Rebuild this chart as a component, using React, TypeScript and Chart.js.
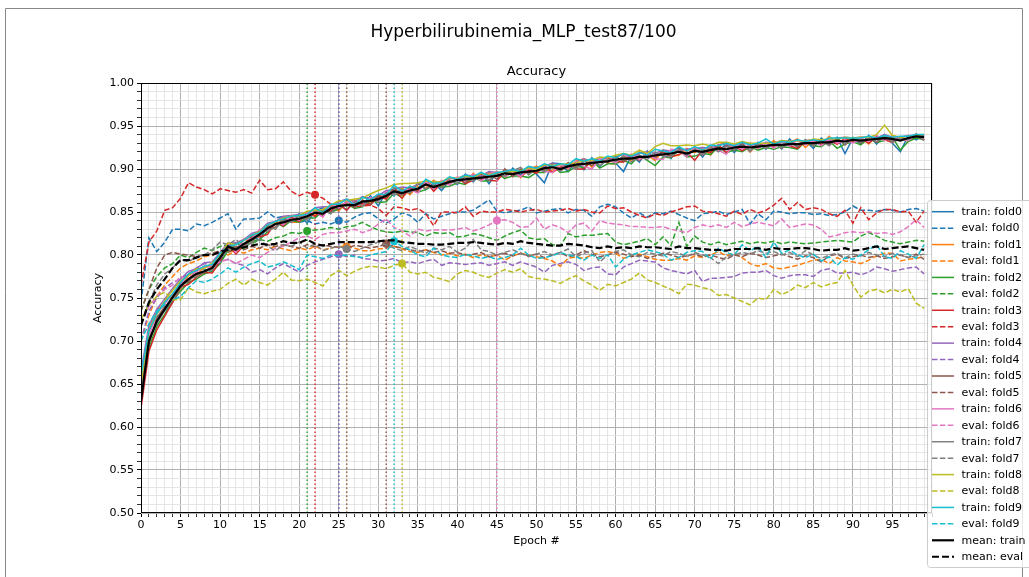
import { useEffect, useRef } from 'react';
import { Chart, registerables } from 'chart.js';

Chart.register(...registerables);

const epochs: number[] = Array.from({ length: 100 }, (_, i) => i);
const foldNames = ['fold0', 'fold1', 'fold2', 'fold3', 'fold4', 'fold5', 'fold6', 'fold7', 'fold8', 'fold9'];
const foldColors = ['#1f77b4', '#ff7f0e', '#2ca02c', '#d62728', '#9467bd', '#8c564b', '#e377c2', '#7f7f7f', '#bcbd22', '#17becf'];
const bestEpochs = [25, 26, 21, 22, 25, 31, 45, 26, 33, 32];
const xTickLabels = ['0', '5', '10', '15', '20', '25', '30', '35', '40', '45', '50', '55', '60', '65', '70', '75', '80', '85', '90', '95'];
const yTickLabels = ['0.50', '0.55', '0.60', '0.65', '0.70', '0.75', '0.80', '0.85', '0.90', '0.95', '1.00'];

const trainFold0 = [0.640,0.712,0.728,0.735,0.745,0.768,0.769,0.784,0.783,0.781,
0.791,0.812,0.814,0.809,0.823,0.817,0.834,0.830,0.842,0.839,
0.848,0.837,0.851,0.855,0.849,0.860,0.852,0.863,0.858,0.869,
0.857,0.873,0.869,0.878,0.871,0.884,0.876,0.884,0.875,0.887,
0.882,0.894,0.885,0.895,0.883,0.896,0.889,0.901,0.893,0.902,
0.894,0.884,0.907,0.906,0.897,0.909,0.899,0.913,0.903,0.912,
0.907,0.897,0.916,0.908,0.921,0.911,0.921,0.912,0.925,0.915,
0.925,0.914,0.927,0.921,0.929,0.919,0.930,0.920,0.931,0.923,
0.932,0.923,0.935,0.925,0.933,0.924,0.936,0.928,0.937,0.918,
0.936,0.929,0.939,0.929,0.940,0.930,0.920,0.939,0.934,0.940];
const trainFold1 = [0.655,0.715,0.735,0.745,0.753,0.760,0.777,0.776,0.787,0.786,
0.801,0.804,0.804,0.819,0.814,0.828,0.833,0.831,0.844,0.838,
0.838,0.850,0.846,0.852,0.856,0.851,0.862,0.864,0.858,0.861,
0.870,0.866,0.878,0.878,0.870,0.880,0.878,0.887,0.880,0.889,
0.889,0.884,0.895,0.887,0.896,0.894,0.890,0.898,0.890,0.900,
0.903,0.899,0.898,0.906,0.900,0.909,0.912,0.902,0.911,0.907,
0.906,0.916,0.909,0.920,0.916,0.910,0.922,0.915,0.916,0.924,
0.919,0.925,0.916,0.928,0.931,0.922,0.930,0.920,0.929,0.925,
0.933,0.924,0.931,0.935,0.925,0.933,0.928,0.938,0.929,0.936,
0.931,0.937,0.929,0.938,0.934,0.939,0.936,0.932,0.940,0.936];
const trainFold2 = [0.645,0.692,0.717,0.731,0.747,0.758,0.768,0.772,0.778,0.781,
0.790,0.805,0.809,0.807,0.816,0.818,0.827,0.838,0.833,0.840,
0.838,0.843,0.843,0.851,0.849,0.854,0.860,0.854,0.856,0.864,
0.861,0.862,0.872,0.867,0.878,0.873,0.876,0.881,0.879,0.880,
0.884,0.882,0.891,0.886,0.886,0.895,0.889,0.892,0.892,0.890,
0.896,0.896,0.905,0.896,0.897,0.903,0.902,0.910,0.901,0.906,
0.906,0.910,0.906,0.916,0.910,0.904,0.914,0.913,0.922,0.914,
0.915,0.918,0.917,0.926,0.919,0.922,0.920,0.926,0.922,0.925,
0.923,0.926,0.925,0.923,0.932,0.927,0.926,0.933,0.924,0.929,
0.932,0.928,0.936,0.931,0.933,0.937,0.922,0.932,0.936,0.934];
const trainFold3 = [0.622,0.688,0.713,0.729,0.745,0.762,0.766,0.774,0.780,0.779,
0.793,0.813,0.801,0.811,0.822,0.821,0.824,0.838,0.834,0.844,
0.839,0.849,0.845,0.853,0.851,0.859,0.852,0.862,0.860,0.858,
0.868,0.865,0.876,0.866,0.878,0.875,0.886,0.874,0.884,0.882,
0.890,0.883,0.887,0.894,0.887,0.886,0.897,0.897,0.891,0.899,
0.895,0.904,0.896,0.902,0.907,0.900,0.900,0.910,0.910,0.913,
0.909,0.908,0.917,0.911,0.916,0.914,0.920,0.914,0.917,0.920,
0.910,0.922,0.919,0.928,0.919,0.927,0.921,0.928,0.924,0.931,
0.925,0.932,0.927,0.924,0.933,0.934,0.928,0.933,0.929,0.935,
0.931,0.935,0.930,0.938,0.934,0.931,0.936,0.934,0.939,0.934];
const trainFold4 = [0.665,0.718,0.737,0.749,0.761,0.772,0.781,0.784,0.791,0.792,
0.803,0.814,0.814,0.818,0.825,0.828,0.837,0.839,0.845,0.846,
0.847,0.848,0.855,0.856,0.856,0.862,0.865,0.862,0.868,0.866,
0.869,0.875,0.876,0.879,0.878,0.882,0.884,0.885,0.885,0.889,
0.889,0.893,0.892,0.892,0.897,0.896,0.896,0.899,0.898,0.901,
0.901,0.903,0.907,0.904,0.905,0.908,0.912,0.909,0.912,0.910,
0.914,0.917,0.913,0.918,0.920,0.918,0.922,0.921,0.922,0.923,
0.924,0.925,0.924,0.928,0.929,0.926,0.929,0.930,0.928,0.931,
0.930,0.933,0.932,0.933,0.931,0.934,0.934,0.933,0.936,0.937,
0.936,0.937,0.937,0.936,0.940,0.937,0.937,0.939,0.939,0.939];
const trainFold5 = [0.635,0.696,0.727,0.740,0.748,0.765,0.769,0.779,0.779,0.786,
0.799,0.807,0.810,0.809,0.821,0.822,0.834,0.832,0.843,0.838,
0.846,0.842,0.852,0.846,0.858,0.853,0.863,0.855,0.864,0.859,
0.869,0.867,0.878,0.869,0.880,0.873,0.885,0.877,0.886,0.882,
0.890,0.884,0.893,0.888,0.894,0.888,0.900,0.891,0.900,0.895,
0.902,0.898,0.905,0.898,0.907,0.901,0.910,0.904,0.911,0.907,
0.915,0.909,0.914,0.910,0.917,0.914,0.921,0.915,0.924,0.915,
0.924,0.916,0.925,0.922,0.927,0.922,0.929,0.921,0.930,0.925,
0.931,0.924,0.931,0.926,0.934,0.927,0.934,0.929,0.936,0.928,
0.936,0.930,0.937,0.931,0.938,0.932,0.937,0.934,0.940,0.934];
const trainFold6 = [0.642,0.705,0.732,0.743,0.755,0.765,0.777,0.780,0.787,0.783,
0.798,0.814,0.803,0.818,0.819,0.830,0.829,0.840,0.835,0.846,
0.840,0.849,0.850,0.844,0.859,0.855,0.862,0.860,0.857,0.867,
0.862,0.874,0.870,0.876,0.876,0.872,0.885,0.877,0.887,0.881,
0.891,0.886,0.894,0.886,0.894,0.897,0.891,0.896,0.891,0.901,
0.900,0.897,0.896,0.905,0.901,0.909,0.903,0.900,0.912,0.911,
0.907,0.915,0.917,0.911,0.918,0.912,0.911,0.923,0.922,0.914,
0.926,0.917,0.926,0.922,0.917,0.929,0.923,0.929,0.924,0.930,
0.924,0.932,0.926,0.934,0.928,0.933,0.927,0.935,0.930,0.934,
0.930,0.936,0.932,0.939,0.933,0.938,0.935,0.933,0.940,0.935];
const trainFold7 = [0.638,0.703,0.720,0.736,0.748,0.762,0.772,0.775,0.781,0.783,
0.796,0.806,0.808,0.810,0.814,0.826,0.828,0.832,0.840,0.838,
0.845,0.841,0.851,0.852,0.848,0.859,0.857,0.861,0.857,0.865,
0.863,0.872,0.870,0.876,0.872,0.883,0.877,0.882,0.878,0.887,
0.883,0.891,0.886,0.896,0.887,0.894,0.892,0.898,0.902,0.893,
0.901,0.897,0.906,0.897,0.905,0.900,0.909,0.911,0.904,0.911,
0.909,0.915,0.908,0.916,0.911,0.920,0.915,0.914,0.923,0.916,
0.923,0.917,0.926,0.920,0.926,0.923,0.928,0.921,0.929,0.924,
0.930,0.924,0.932,0.927,0.934,0.927,0.933,0.927,0.935,0.929,
0.937,0.931,0.936,0.932,0.939,0.931,0.936,0.934,0.941,0.933];
const trainFold8 = [0.650,0.712,0.731,0.747,0.759,0.770,0.776,0.784,0.784,0.791,
0.799,0.814,0.812,0.817,0.823,0.827,0.835,0.838,0.843,0.845,
0.846,0.851,0.852,0.853,0.858,0.863,0.863,0.865,0.866,0.871,
0.875,0.878,0.882,0.883,0.883,0.884,0.886,0.885,0.885,0.890,
0.889,0.892,0.890,0.895,0.893,0.896,0.896,0.897,0.898,0.901,
0.899,0.905,0.904,0.905,0.906,0.907,0.910,0.910,0.914,0.913,
0.916,0.918,0.916,0.922,0.918,0.926,0.930,0.927,0.927,0.928,
0.927,0.929,0.927,0.931,0.931,0.929,0.932,0.930,0.930,0.930,
0.930,0.933,0.932,0.933,0.932,0.935,0.934,0.935,0.935,0.937,
0.936,0.937,0.937,0.940,0.951,0.939,0.937,0.938,0.939,0.940];
const trainFold9 = [0.660,0.712,0.732,0.745,0.755,0.768,0.778,0.782,0.787,0.789,
0.802,0.810,0.812,0.817,0.823,0.826,0.835,0.839,0.842,0.845,
0.846,0.847,0.855,0.849,0.859,0.859,0.865,0.858,0.867,0.864,
0.871,0.870,0.881,0.874,0.880,0.877,0.888,0.883,0.884,0.891,
0.888,0.893,0.891,0.896,0.892,0.896,0.897,0.899,0.897,0.903,
0.901,0.906,0.903,0.906,0.905,0.912,0.909,0.912,0.909,0.915,
0.913,0.918,0.915,0.919,0.916,0.923,0.921,0.919,0.926,0.921,
0.926,0.922,0.928,0.927,0.930,0.927,0.931,0.928,0.930,0.935,
0.929,0.932,0.931,0.934,0.932,0.934,0.932,0.936,0.936,0.936,
0.936,0.936,0.938,0.936,0.939,0.937,0.938,0.938,0.940,0.940];

const evalFold0 = [0.745,0.820,0.804,0.815,0.830,0.830,0.828,0.836,0.834,0.838,
0.843,0.848,0.830,0.842,0.842,0.843,0.850,0.843,0.845,0.842,
0.838,0.840,0.836,0.838,0.836,0.840,0.838,0.844,0.848,0.849,
0.842,0.837,0.842,0.849,0.846,0.838,0.848,0.842,0.845,0.848,
0.850,0.850,0.852,0.858,0.864,0.851,0.849,0.851,0.852,0.856,
0.849,0.851,0.853,0.854,0.849,0.853,0.852,0.845,0.856,0.859,
0.856,0.849,0.843,0.849,0.844,0.849,0.848,0.851,0.847,0.843,
0.840,0.848,0.849,0.851,0.847,0.850,0.853,0.836,0.848,0.841,
0.851,0.850,0.848,0.849,0.849,0.847,0.848,0.846,0.847,0.850,
0.857,0.852,0.852,0.851,0.853,0.852,0.850,0.853,0.854,0.851];
const evalFold1 = [0.700,0.730,0.752,0.765,0.775,0.785,0.790,0.793,0.798,0.800,
0.803,0.800,0.805,0.802,0.806,0.808,0.806,0.810,0.807,0.805,
0.808,0.806,0.810,0.806,0.808,0.810,0.810,0.808,0.805,0.805,
0.807,0.808,0.810,0.807,0.804,0.803,0.806,0.803,0.800,0.802,
0.799,0.801,0.797,0.800,0.798,0.800,0.794,0.799,0.802,0.800,
0.798,0.796,0.793,0.787,0.796,0.798,0.796,0.800,0.803,0.804,
0.802,0.796,0.800,0.801,0.798,0.795,0.794,0.794,0.796,0.794,
0.799,0.797,0.800,0.804,0.799,0.802,0.797,0.790,0.787,0.790,
0.785,0.784,0.786,0.788,0.791,0.794,0.795,0.790,0.797,0.793,
0.792,0.790,0.794,0.799,0.802,0.802,0.793,0.795,0.796,0.798];
const evalFold2 = [0.735,0.760,0.775,0.785,0.790,0.800,0.797,0.803,0.808,0.805,
0.810,0.812,0.808,0.815,0.813,0.818,0.816,0.820,0.822,0.826,
0.825,0.828,0.829,0.830,0.832,0.830,0.833,0.834,0.838,0.833,
0.829,0.827,0.826,0.828,0.827,0.826,0.822,0.826,0.825,0.826,
0.821,0.822,0.825,0.823,0.820,0.817,0.822,0.826,0.829,0.820,
0.818,0.819,0.812,0.811,0.825,0.821,0.823,0.823,0.824,0.825,
0.815,0.812,0.814,0.816,0.819,0.812,0.821,0.811,0.838,0.810,
0.822,0.815,0.812,0.815,0.812,0.814,0.816,0.813,0.815,0.814,
0.816,0.813,0.815,0.814,0.813,0.814,0.815,0.816,0.817,0.816,
0.815,0.822,0.826,0.822,0.817,0.815,0.813,0.815,0.817,0.816];
const evalFold3 = [0.765,0.815,0.828,0.852,0.855,0.866,0.884,0.879,0.876,0.871,
0.877,0.875,0.873,0.876,0.872,0.887,0.876,0.877,0.885,0.874,
0.869,0.873,0.870,0.866,0.859,0.858,0.860,0.856,0.857,0.858,
0.854,0.846,0.856,0.855,0.852,0.854,0.848,0.834,0.850,0.850,
0.849,0.856,0.845,0.851,0.850,0.850,0.853,0.852,0.850,0.852,
0.853,0.850,0.851,0.852,0.854,0.851,0.853,0.850,0.849,0.857,
0.854,0.855,0.850,0.846,0.843,0.848,0.846,0.850,0.853,0.856,
0.857,0.851,0.850,0.848,0.845,0.851,0.847,0.853,0.849,0.852,
0.858,0.866,0.853,0.861,0.853,0.855,0.853,0.848,0.845,0.852,
0.837,0.855,0.841,0.849,0.853,0.853,0.850,0.851,0.838,0.851];
const evalFold4 = [0.700,0.735,0.750,0.762,0.768,0.772,0.778,0.785,0.790,0.788,
0.792,0.795,0.790,0.788,0.780,0.783,0.778,0.785,0.790,0.785,
0.780,0.788,0.792,0.795,0.798,0.801,0.798,0.800,0.796,0.795,
0.793,0.794,0.796,0.791,0.792,0.790,0.793,0.795,0.788,0.791,
0.790,0.789,0.790,0.791,0.788,0.790,0.792,0.788,0.792,0.789,
0.786,0.780,0.788,0.790,0.792,0.789,0.782,0.785,0.786,0.778,
0.777,0.786,0.790,0.794,0.793,0.792,0.785,0.782,0.780,0.778,
0.782,0.769,0.773,0.773,0.774,0.775,0.779,0.780,0.780,0.782,
0.776,0.773,0.776,0.777,0.777,0.775,0.782,0.784,0.779,0.779,
0.780,0.777,0.780,0.786,0.784,0.781,0.783,0.785,0.786,0.778];
const evalFold5 = [0.735,0.760,0.785,0.800,0.803,0.801,0.800,0.798,0.800,0.802,
0.805,0.803,0.808,0.806,0.810,0.808,0.812,0.810,0.812,0.810,
0.808,0.812,0.810,0.812,0.810,0.809,0.808,0.811,0.810,0.808,
0.810,0.813,0.810,0.808,0.806,0.804,0.806,0.803,0.805,0.802,
0.803,0.800,0.801,0.803,0.798,0.800,0.802,0.799,0.802,0.799,
0.801,0.797,0.800,0.803,0.798,0.800,0.805,0.801,0.798,0.800,
0.803,0.801,0.798,0.800,0.796,0.799,0.802,0.800,0.797,0.799,
0.801,0.798,0.800,0.797,0.795,0.800,0.798,0.802,0.800,0.797,
0.799,0.801,0.798,0.795,0.799,0.797,0.792,0.799,0.801,0.796,
0.798,0.800,0.797,0.799,0.796,0.798,0.800,0.797,0.801,0.795];
const evalFold6 = [0.720,0.740,0.752,0.760,0.765,0.775,0.772,0.782,0.785,0.788,
0.792,0.795,0.790,0.795,0.800,0.797,0.803,0.808,0.810,0.815,
0.820,0.822,0.818,0.824,0.826,0.826,0.828,0.830,0.826,0.829,
0.836,0.842,0.832,0.828,0.822,0.830,0.828,0.829,0.829,0.829,
0.830,0.832,0.828,0.831,0.835,0.840,0.841,0.838,0.832,0.833,
0.843,0.830,0.835,0.832,0.826,0.835,0.837,0.828,0.840,0.837,
0.836,0.835,0.833,0.833,0.832,0.832,0.833,0.830,0.828,0.826,
0.832,0.835,0.833,0.835,0.832,0.838,0.833,0.836,0.838,0.836,
0.834,0.842,0.832,0.834,0.836,0.835,0.830,0.821,0.823,0.826,
0.827,0.826,0.827,0.825,0.826,0.824,0.827,0.833,0.841,0.832];
const evalFold7 = [0.720,0.745,0.765,0.778,0.785,0.795,0.792,0.798,0.800,0.806,
0.815,0.812,0.818,0.810,0.815,0.818,0.810,0.805,0.812,0.810,
0.815,0.808,0.813,0.805,0.808,0.810,0.807,0.804,0.808,0.812,
0.815,0.812,0.808,0.805,0.810,0.806,0.802,0.808,0.806,0.810,
0.803,0.808,0.818,0.806,0.804,0.800,0.803,0.806,0.802,0.798,
0.801,0.804,0.800,0.803,0.807,0.798,0.802,0.805,0.792,0.800,
0.804,0.806,0.800,0.798,0.803,0.801,0.799,0.804,0.802,0.798,
0.803,0.800,0.797,0.790,0.798,0.800,0.803,0.801,0.805,0.802,
0.804,0.800,0.803,0.798,0.805,0.800,0.796,0.800,0.802,0.797,
0.801,0.799,0.803,0.800,0.798,0.802,0.800,0.797,0.799,0.801];
const evalFold8 = [0.725,0.742,0.752,0.757,0.748,0.748,0.762,0.757,0.755,0.758,
0.760,0.767,0.772,0.765,0.772,0.768,0.765,0.772,0.780,0.771,
0.770,0.772,0.768,0.764,0.776,0.782,0.776,0.781,0.785,0.787,
0.786,0.784,0.788,0.790,0.780,0.778,0.780,0.774,0.772,0.769,
0.778,0.782,0.780,0.776,0.774,0.779,0.783,0.780,0.784,0.775,
0.773,0.772,0.770,0.767,0.772,0.776,0.770,0.765,0.759,0.766,
0.764,0.768,0.772,0.779,0.771,0.768,0.764,0.760,0.755,0.766,
0.765,0.762,0.760,0.753,0.754,0.750,0.746,0.742,0.750,0.748,
0.760,0.754,0.758,0.765,0.762,0.768,0.763,0.766,0.768,0.782,
0.765,0.751,0.758,0.760,0.756,0.760,0.757,0.761,0.744,0.738];
const evalFold9 = [0.700,0.720,0.735,0.742,0.748,0.752,0.762,0.770,0.768,0.772,
0.778,0.785,0.780,0.786,0.790,0.793,0.786,0.788,0.792,0.788,
0.783,0.800,0.798,0.796,0.800,0.799,0.800,0.798,0.797,0.800,
0.802,0.804,0.816,0.810,0.806,0.800,0.798,0.808,0.800,0.798,
0.797,0.801,0.799,0.796,0.798,0.795,0.797,0.800,0.808,0.800,
0.796,0.797,0.799,0.803,0.800,0.798,0.794,0.800,0.796,0.800,
0.786,0.795,0.800,0.803,0.806,0.804,0.801,0.794,0.797,0.803,
0.805,0.804,0.795,0.808,0.803,0.800,0.812,0.805,0.810,0.797,
0.815,0.802,0.806,0.800,0.797,0.801,0.793,0.798,0.788,0.797,
0.795,0.800,0.806,0.812,0.798,0.796,0.805,0.801,0.796,0.812];

const meanTrain = [0.630,0.700,0.723,0.737,0.751,0.764,0.772,0.778,0.781,0.785,
0.797,0.810,0.806,0.813,0.818,0.824,0.831,0.836,0.838,0.841,
0.842,0.845,0.849,0.848,0.854,0.857,0.858,0.858,0.862,0.863,
0.865,0.869,0.874,0.872,0.875,0.877,0.882,0.879,0.882,0.885,
0.887,0.888,0.889,0.890,0.891,0.892,0.895,0.894,0.896,0.897,
0.898,0.901,0.902,0.900,0.903,0.905,0.906,0.907,0.908,0.909,
0.911,0.912,0.912,0.914,0.914,0.916,0.917,0.918,0.920,0.918,
0.921,0.920,0.922,0.924,0.923,0.925,0.926,0.925,0.926,0.927,
0.928,0.928,0.929,0.929,0.930,0.930,0.931,0.931,0.933,0.932,
0.934,0.933,0.934,0.935,0.936,0.935,0.933,0.936,0.938,0.937];
const meanEval = [0.718,0.745,0.760,0.772,0.785,0.794,0.794,0.797,0.800,0.800,
0.804,0.806,0.807,0.809,0.811,0.813,0.812,0.813,0.816,0.814,
0.814,0.818,0.813,0.811,0.813,0.815,0.815,0.815,0.815,0.815,
0.816,0.817,0.817,0.815,0.814,0.813,0.813,0.812,0.812,0.813,
0.814,0.814,0.815,0.814,0.813,0.812,0.814,0.813,0.816,0.814,
0.813,0.812,0.811,0.811,0.813,0.812,0.811,0.809,0.808,0.810,
0.808,0.809,0.808,0.810,0.809,0.809,0.808,0.807,0.810,0.808,
0.808,0.807,0.806,0.806,0.805,0.807,0.807,0.807,0.808,0.806,
0.808,0.807,0.807,0.808,0.808,0.807,0.805,0.806,0.806,0.808,
0.805,0.806,0.808,0.810,0.807,0.808,0.809,0.810,0.808,0.806];

const trainSeries = [trainFold0, trainFold1, trainFold2, trainFold3, trainFold4, trainFold5, trainFold6, trainFold7, trainFold8, trainFold9];
const evalSeries = [evalFold0, evalFold1, evalFold2, evalFold3, evalFold4, evalFold5, evalFold6, evalFold7, evalFold8, evalFold9];

const FONT = 'DejaVu Sans';
const EVAL_DASH = [5.5, 2.4];
const MEAN_DASH = [7, 3];

type LegendEntry = { label: string; color: string; dash: number[]; width: number };

function buildDatasets() {
  const ds: any[] = [];
  const legend: LegendEntry[] = [];
  for (let k = 0; k < 10; k++) {
    const c = foldColors[k];
    ds.push({
      type: 'line', label: 'train: ' + foldNames[k],
      data: epochs.map((e, i) => ({ x: e, y: trainSeries[k][i] })),
      borderColor: c, borderWidth: 1.5, pointRadius: 0, fill: false, tension: 0,
    });
    legend.push({ label: 'train: ' + foldNames[k], color: c, dash: [], width: 1.5 });
    ds.push({
      type: 'line', label: 'eval: ' + foldNames[k],
      data: epochs.map((e, i) => ({ x: e, y: evalSeries[k][i] })),
      borderColor: c, borderWidth: 1.5, borderDash: EVAL_DASH, pointRadius: 0, fill: false, tension: 0,
    });
    legend.push({ label: 'eval: ' + foldNames[k], color: c, dash: EVAL_DASH, width: 1.5 });
    const b = bestEpochs[k];
    ds.push({
      type: 'line', label: '_best' + k,
      data: [{ x: b, y: 0.5 }, { x: b, y: 1.0 }],
      borderColor: c, borderWidth: 1.4, borderDash: [1.5, 2.5], pointRadius: 0, fill: false,
    });
    ds.push({
      type: 'line', label: '_marker' + k, showLine: false,
      data: [{ x: b, y: evalSeries[k][b] }],
      pointRadius: 4, pointBackgroundColor: c, pointBorderColor: c, pointBorderWidth: 0,
    });
  }
  ds.push({
    type: 'line', label: 'mean: train',
    data: epochs.map((e, i) => ({ x: e, y: meanTrain[i] })),
    borderColor: '#000', borderWidth: 2.2, pointRadius: 0, fill: false, tension: 0,
  });
  legend.push({ label: 'mean: train', color: '#000', dash: [], width: 2.2 });
  ds.push({
    type: 'line', label: 'mean: eval',
    data: epochs.map((e, i) => ({ x: e, y: meanEval[i] })),
    borderColor: '#000', borderWidth: 2.2, borderDash: MEAN_DASH, pointRadius: 0, fill: false, tension: 0,
  });
  legend.push({ label: 'mean: eval', color: '#000', dash: MEAN_DASH, width: 2.2 });
  ds.forEach((d, i) => { d.order = ds.length - i; });
  return { ds, legend };
}

function isMajorX(v: number) { return xTickLabels.includes(String(Math.round(v))) && Math.abs(v - Math.round(v)) < 1e-6; }
function yLabelOf(v: number) { const s = v.toFixed(2); return yTickLabels.includes(s) ? s : ''; }

export default function App() {
  const ref = useRef<HTMLCanvasElement | null>(null);
  useEffect(() => {
    const canvas = ref.current;
    if (!canvas) return;
    const { ds, legend } = buildDatasets();

    const overlay = {
      id: 'overlay',
      afterDatasetsDraw(chart: any) {
        const { ctx, chartArea: a } = chart;
        ctx.save();
        ctx.strokeStyle = '#000';
        ctx.lineWidth = 1;
        ctx.setLineDash([]);
        ctx.strokeRect(a.left + 0.5, a.top + 0.5, a.right - a.left - 1, a.bottom - a.top - 1);
        ctx.restore();
      },
      afterDraw(chart: any) {
        const { ctx, chartArea: a } = chart;
        ctx.save();
        ctx.strokeStyle = '#888';
        ctx.lineWidth = 1;
        ctx.beginPath();
        ctx.moveTo(5.5, 577); ctx.lineTo(5.5, 8.5); ctx.lineTo(1022.5, 8.5); ctx.lineTo(1022.5, 577);
        ctx.stroke();
        ctx.fillStyle = '#000';
        ctx.textAlign = 'center';
        ctx.textBaseline = 'middle';
        ctx.font = `17px "${FONT}"`;
        ctx.fillText('Hyperbilirubinemia_MLP_test87/100', 523.5, 33);
        ctx.font = `13px "${FONT}"`;
        ctx.fillText('Accuracy', (a.left + a.right) / 2, 72);
        ctx.font = `11px "${FONT}"`;
        ctx.fillText('Epoch #', (a.left + a.right) / 2, 541);
        ctx.save();
        ctx.translate(98, (a.top + a.bottom) / 2);
        ctx.rotate(-Math.PI / 2);
        ctx.fillText('Accuracy', 0, 0);
        ctx.restore();
        const lx = 927.5, ly = 200.5, lw = 120, lh = 367;
        ctx.beginPath();
        const r = 3;
        ctx.moveTo(lx + r, ly);
        ctx.lineTo(lx + lw, ly);
        ctx.lineTo(lx + lw, ly + lh);
        ctx.lineTo(lx + r, ly + lh);
        ctx.arcTo(lx, ly + lh, lx, ly + lh - r, r);
        ctx.lineTo(lx, ly + r);
        ctx.arcTo(lx, ly, lx + r, ly, r);
        ctx.closePath();
        ctx.fillStyle = 'rgba(255,255,255,0.8)';
        ctx.fill();
        ctx.strokeStyle = '#cccccc';
        ctx.lineWidth = 1;
        ctx.stroke();
        ctx.textAlign = 'left';
        ctx.font = `11px "${FONT}"`;
        legend.forEach((it, i) => {
          const y = 211.7 + i * 16.43;
          ctx.beginPath();
          ctx.strokeStyle = it.color;
          ctx.lineWidth = it.width;
          ctx.setLineDash(it.dash);
          ctx.moveTo(932, y);
          ctx.lineTo(954, y);
          ctx.stroke();
          ctx.setLineDash([]);
          ctx.fillStyle = '#000';
          ctx.fillText(it.label, 961.5, y + 0.5);
        });
        ctx.restore();
      },
    };

    const chart = new Chart(canvas, {
      type: 'line',
      data: { datasets: ds },
      options: {
        responsive: false,
        animation: false,
        devicePixelRatio: 1,
        layout: { padding: { left: 0, top: 83, right: 97, bottom: 0 } },
        plugins: { legend: { display: false }, tooltip: { enabled: false }, title: { display: false } },
        scales: {
          x: {
            type: 'linear', min: 0, max: 100,
            ticks: {
              stepSize: 1, autoSkip: false, maxRotation: 0, minRotation: 0, padding: 2,
              color: '#000', font: { family: FONT, size: 11 },
              callback: (v: any) => (isMajorX(Number(v)) ? String(Math.round(Number(v))) : ''),
            },
            grid: {
              color: (c: any) => (isMajorX(c.tick.value) ? '#b0b0b0' : '#dedede'),
              lineWidth: (c: any) => (isMajorX(c.tick.value) ? 1 : 0.8),
              tickLength: 4, tickColor: '#000', drawTicks: true,
            },
            border: { display: false },
            afterFit: (s: any) => { s.height = 64; },
          },
          y: {
            type: 'linear', min: 0.5, max: 1.0,
            ticks: {
              stepSize: 0.01, autoSkip: false, padding: 3,
              color: '#000', font: { family: FONT, size: 11 },
              callback: (v: any) => yLabelOf(Number(v)),
            },
            grid: {
              color: (c: any) => (yLabelOf(c.tick.value) ? '#b0b0b0' : '#dedede'),
              lineWidth: (c: any) => (yLabelOf(c.tick.value) ? 1 : 0.8),
              tickLength: 4, tickColor: '#000', drawTicks: true,
            },
            border: { display: false },
            afterFit: (s: any) => { s.width = 141; },
          },
        },
      },
      plugins: [overlay],
    } as any);
    return () => chart.destroy();
  }, []);

  return (
    <div style={{ position: 'fixed', left: 0, top: 0, width: 1029, height: 577, background: '#fff' }}>
      <canvas ref={ref} width={1029} height={577} style={{ width: 1029, height: 577, display: 'block' }} />
    </div>
  );
}
